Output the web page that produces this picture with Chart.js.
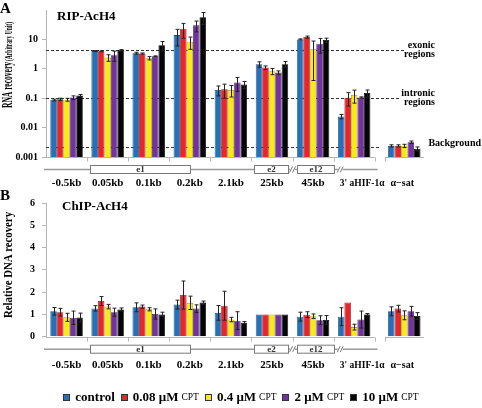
<!DOCTYPE html>
<html>
<head>
<meta charset="utf-8">
<script src="https://cdn.jsdelivr.net/npm/chart.js@4.4.1/dist/chart.umd.min.js"></script>
<style>
  body { margin: 0; background: #fff; }
  #page { position: relative; width: 482px; height: 408px; overflow: hidden; font-family: "Liberation Serif", "Times New Roman", serif; }
  canvas { position: absolute; left: 0; display: block; }
  #chartA { top: 0; }
  #chartB { top: 190px; }
  #legend { position: absolute; left: 0; top: 389px; width: 482px; display: flex; justify-content: center; align-items: center; font-weight: bold; font-size: 13px; line-height: 16px; white-space: nowrap; }
  #legend .item { display: flex; align-items: center; margin: 0 3px; }
  #legend .sw { width: 5px; height: 5px; border: 1px solid #333; margin-right: 5px; }
  #legend small { font-size: 9.5px; font-weight: normal; margin-left: 3px; }
</style>
</head>
<body>
<div id="page">
  <canvas id="chartA" width="482" height="200"></canvas>
  <canvas id="chartB" width="482" height="190"></canvas>
  <div id="legend"></div>
</div>
<script>
const FONT = '"Liberation Serif", "Times New Roman", serif';

// categories (regions along the HIF-1α gene)
const categories = ['-0.5kb', '0.05kb', '0.1kb', '0.2kb', '2.1kb', '25kb', '45kb', "3' aHIF-1α", 'α−sat'];
const seriesLabels = ['control', '0.08 μM CPT', '0.4 μM CPT', '2 μM CPT', '10 μM CPT'];
const seriesColors = ['#2670b8', '#e8252b', '#f7ea16', '#7232a0', '#050505'];
const seriesEdges = ['#184f86', '#9c1418', '#a89a0a', '#4a1c6c', '#000000'];

// A: RIP-AcH4, RNA recovery (log)
const ripControl = [0.087, 4.0, 3.4, 14, 0.19, 1.43, 10, 0.024, 0.0024];
const rip008 = [0.092, 3.95, 3.3, 23, 0.2, 1.1, 12, 0.104, 0.0024];
const rip04 = [0.089, 2.4, 2.3, 8.3, 0.19, 0.83, 4.6, 0.128, 0.0024];
const rip2 = [0.105, 2.9, 2.65, 30, 0.34, 0.75, 7.1, 0.106, 0.0032];
const rip10 = [0.124, 4.3, 6.3, 57, 0.29, 1.43, 9.5, 0.15, 0.0019];
const ripControlErr = [0.006, 0.15, 0.25, 8, 0.07, 0.3, 0.4, 0.004, 0.0002];
const rip008Err = [0.008, 0.15, 0.15, 12, 0.1, 0.15, 1.0, 0.05, 0.0002];
const rip04Err = [0.01, 0.6, 0.3, 3.7, 0.08, 0.2, 4.2, 0.06, 0.0003];
const rip2Err = [0.015, 1.1, 0.1, 12, 0.17, 0.1, 3.7, 0.005, 0.0003];
const rip10Err = [0.01, 0.2, 2.2, 25, 0.08, 0.35, 1.5, 0.04, 0.0003];

// B: ChIP-AcH4, relative DNA recovery
const chipControl = [1.14, 1.27, 1.32, 1.44, 1.07, 1.0, 0.9, 0.9, 1.14];
const chip008 = [1.1, 1.6, 1.35, 1.87, 1.39, 1.0, 0.99, 1.53, 1.26];
const chip04 = [0.87, 1.35, 1.23, 1.52, 0.77, 1.0, 0.92, 0.43, 0.96];
const chip2 = [0.85, 1.1, 1.02, 1.26, 0.72, 1.0, 0.74, 0.77, 1.14];
const chip10 = [0.86, 1.22, 1.0, 1.53, 0.63, 1.0, 0.75, 1.0, 0.93];
const chipControlErr = [0.17, 0.12, 0.2, 0.2, 0.33, 0, 0.2, 0.4, 0.2];
const chip008Err = [0.17, 0.2, 0.07, 0.63, 0.65, 0, 0.13, 0, 0.15];
const chip04Err = [0.18, 0.1, 0.07, 0.3, 0.1, 0, 0.1, 0.13, 0.2];
const chip2Err = [0.3, 0.18, 0.23, 0.17, 0.4, 0, 0.2, 0.38, 0.22];
const chip10Err = [0.2, 0.07, 0.1, 0.07, 0.05, 0, 0.2, 0.04, 0.15];

const ticksA = [0.001, 0.01, 0.1, 1, 10];
const ticksB = [0, 1, 2, 3, 4, 5, 6];

// dashed levels in A
const refLevels = [4.3, 0.1, 0.0022];
const refLabels = [['exonic', 'regions'], ['intronic', 'regions'], ['Background']];

// gene map under the axes (in axis units)
const exons = [['e1', 0.57, 3.0], ['e2', 4.56, 5.4], ['e12', 5.61, 6.52]];
const breaks = [5.5, 6.66];

// α-sat sits on its own short axis, a bit further right
const groupPos = categories.map((c, i) => i === categories.length - 1 ? 8.22 : i);

function makeSets(values, errors) {
    return values.map((vals, s) => ({
        label: seriesLabels[s],
        data: vals.map((v, i) => ({ x: groupPos[i], y: v })),
        errors: errors[s],
        backgroundColor: seriesColors[s],
        borderColor: seriesEdges[s],
        borderWidth: 0.8,
        categoryPercentage: 0.79,
        barPercentage: 1
    }));
}

const panelCfg = {
    chartA: { letter: 'A', letterY: 9, title: 'RIP-AcH4', titleX: 57, titleY: 17, labelOff: 26.5, refs: true },
    chartB: { letter: 'B', letterY: 6, title: 'ChIP-AcH4', titleX: 62, titleY: 17, labelOff: 28.5, refs: false }
};
const refLineEnd = [404, 401, 380];

function vText(ctx, text, font, cx, yStart, len) {
    // draw rotated text upward from yStart, squeezed to len px
    ctx.save();
    ctx.translate(cx, yStart);
    ctx.rotate(-Math.PI / 2);
    ctx.font = font;
    const w = ctx.measureText(text).width;
    ctx.scale(len / w, 1);
    ctx.textAlign = 'left';
    ctx.textBaseline = 'middle';
    ctx.fillStyle = '#000';
    ctx.fillText(text, 0, 0);
    ctx.restore();
}

const panelPlugin = {
    id: 'panel',
    beforeDatasetsDraw(chart) {
        const cfg = panelCfg[chart.canvas.id];
        if (!cfg.refs) return;
        const { ctx, chartArea } = chart;
        const y = chart.scales.y;
        ctx.save();
        ctx.strokeStyle = '#333';
        ctx.lineWidth = 1;
        ctx.setLineDash([3, 2]);
        refLevels.forEach((v, k) => {
            const py = Math.round(y.getPixelForValue(v)) + 0.5;
            ctx.beginPath();
            ctx.moveTo(chartArea.left, py);
            ctx.lineTo(refLineEnd[k], py);
            ctx.stroke();
        });
        ctx.restore();
    },
    afterDatasetsDraw(chart) {
        // error bars
        const { ctx } = chart;
        const y = chart.scales.y;
        ctx.save();
        ctx.strokeStyle = '#222';
        ctx.lineWidth = 1;
        chart.data.datasets.forEach((ds, di) => {
            chart.getDatasetMeta(di).data.forEach((bar, i) => {
                const e = ds.errors[i];
                if (!e) return;
                const v = ds.data[i].y;
                const lo = Math.max(v - e, y.min);
                const top = y.getPixelForValue(v + e);
                const bot = y.getPixelForValue(lo);
                const cx = Math.round(bar.x) + 0.5;
                ctx.beginPath();
                ctx.moveTo(cx, top); ctx.lineTo(cx, bot);
                ctx.moveTo(cx - 2, top); ctx.lineTo(cx + 2, top);
                ctx.moveTo(cx - 2, bot); ctx.lineTo(cx + 2, bot);
                ctx.stroke();
            });
        });
        ctx.restore();
    },
    afterDraw(chart) {
        const cfg = panelCfg[chart.canvas.id];
        const { ctx, chartArea } = chart;
        const x = chart.scales.x, y = chart.scales.y;
        const px = v => x.getPixelForValue(v);
        const base = Math.round(chartArea.bottom) + 0.5;
        ctx.save();

        // x axis in two pieces
        ctx.strokeStyle = '#b5b5b5';
        ctx.lineWidth = 1;
        ctx.beginPath();
        ctx.moveTo(chartArea.left, base); ctx.lineTo(px(7.5), base);
        ctx.moveTo(px(7.75), base); ctx.lineTo(px(8.7), base);
        for (let b = 0.5; b <= 7.5; b++) {
            const p = Math.round(px(b)) + 0.5;
            ctx.moveTo(p, base); ctx.lineTo(p, base + 4);
        }
        const ps = Math.round(px(7.75)) + 0.5;
        ctx.moveTo(ps, base); ctx.lineTo(ps, base + 4);
        ctx.stroke();

        // gene map
        const gy = chartArea.bottom + 12.5;
        ctx.strokeStyle = '#9a9a9a';
        ctx.lineWidth = 1.5;
        ctx.beginPath();
        ctx.moveTo(px(-0.55), gy); ctx.lineTo(px(7.57), gy);
        ctx.stroke();
        ctx.lineWidth = 1;
        ctx.strokeStyle = '#7a7a7a';
        ctx.font = 'bold 9px ' + FONT;
        ctx.textAlign = 'center';
        ctx.textBaseline = 'middle';
        exons.forEach(([name, a, b]) => {
            const x0 = Math.round(px(a)) + 0.5, x1 = Math.round(px(b)) + 0.5;
            ctx.fillStyle = '#fff';
            ctx.fillRect(x0, gy - 4, x1 - x0, 8);
            ctx.strokeRect(x0, gy - 4, x1 - x0, 8);
            ctx.fillStyle = '#333';
            ctx.fillText(name, (x0 + x1) / 2, gy);
        });
        breaks.forEach(b => {
            const c = px(b);
            ctx.fillStyle = '#fff';
            ctx.fillRect(c - 2.5, gy - 2, 5, 4);
            ctx.beginPath();
            [-1.5, 1.5].forEach(d => {
                ctx.moveTo(c + d - 1.5, gy + 3); ctx.lineTo(c + d + 1.5, gy - 3);
            });
            ctx.stroke();
        });

        // category labels
        ctx.fillStyle = '#000';
        categories.forEach((c, i) => {
            let shift = 0;
            ctx.font = 'bold 11px ' + FONT;
            if (i === 7) { shift = 8; ctx.font = 'bold 9.5px ' + FONT; }
            if (i === 8) { shift = -2; ctx.font = 'bold 10px ' + FONT; }
            ctx.fillText(c, px(groupPos[i]) + shift, chartArea.bottom + cfg.labelOff);
        });

        // panel letter and title
        ctx.textAlign = 'left';
        ctx.font = 'bold 15px ' + FONT;
        ctx.fillText(cfg.letter, 0, cfg.letterY);
        ctx.font = 'bold 13px ' + FONT;
        ctx.fillText(cfg.title, cfg.titleX, cfg.titleY);

        // y titles
        if (cfg.refs) {
            vText(ctx, 'RNA recovery', 'bold 14px ' + FONT, 8.5, 108, 46);
            vText(ctx, '(Arbitrary Unit)', 'bold 10px ' + FONT, 9, 61, 39);
            ctx.font = 'bold 10px ' + FONT;
            ctx.textAlign = 'right';
            refLevels.forEach((v, k) => {
                const py = y.getPixelForValue(v);
                const lines = refLabels[k];
                if (lines.length === 2) {
                    ctx.fillText(lines[0], 435, py - 4.5);
                    ctx.fillText(lines[1], 435, py + 4.5);
                } else {
                    ctx.fillText(lines[0], 481, py - 3.5);
                }
            });
        } else {
            vText(ctx, 'Relative DNA recovery', 'bold 13px ' + FONT, 8.5, 128, 106);
        }
        ctx.restore();
    }
};

function xScale() {
    return {
        type: 'linear', min: -0.5, max: 8.7, offset: false,
        afterBuildTicks: s => { s.ticks = [-0.5, 0.5, 1.5, 2.5, 3.5, 4.5, 5.5, 6.5, 7.5].map(v => ({ value: v })); },
        ticks: { display: false },
        grid: { display: false },
        border: { display: false },
        afterFit: s => { s.height = s.chart.canvas.id === 'chartA' ? 43 : 43.3; }
    };
}

const tickFont = { family: FONT, size: 10, weight: 'bold' };

new Chart(document.getElementById('chartA'), {
    type: 'bar',
    data: { datasets: makeSets([ripControl, rip008, rip04, rip2, rip10], [ripControlErr, rip008Err, rip04Err, rip2Err, rip10Err]) },
    options: {
        responsive: false,
        animation: false,
        layout: { padding: { top: 9, right: 58, left: 0, bottom: 0 } },
        plugins: { legend: { display: false }, tooltip: { enabled: false } },
        scales: {
            x: xScale(),
            y: {
                type: 'logarithmic', min: 0.001, max: 100,
                afterBuildTicks: s => { s.ticks = ticksA.map(v => ({ value: v })); },
                ticks: { callback: v => String(v), font: tickFont, color: '#000', padding: 4 },
                grid: { drawOnChartArea: false, tickLength: 4, color: '#b5b5b5' },
                border: { color: '#b5b5b5' },
                afterFit: s => { s.width = 46; }
            }
        }
    },
    plugins: [panelPlugin]
});

new Chart(document.getElementById('chartB'), {
    type: 'bar',
    data: { datasets: makeSets([chipControl, chip008, chip04, chip2, chip10], [chipControlErr, chip008Err, chip04Err, chip2Err, chip10Err]) },
    options: {
        responsive: false,
        animation: false,
        layout: { padding: { top: 7, right: 58, left: 0, bottom: 0 } },
        plugins: { legend: { display: false }, tooltip: { enabled: false } },
        scales: {
            x: xScale(),
            y: {
                type: 'linear', min: 0, max: 6,
                afterBuildTicks: s => { s.ticks = ticksB.map(v => ({ value: v })); },
                ticks: { font: tickFont, color: '#000', padding: 7 },
                grid: { drawOnChartArea: false, tickLength: 4, color: '#b5b5b5' },
                border: { color: '#b5b5b5' },
                afterFit: s => { s.width = 46; }
            }
        }
    },
    plugins: [panelPlugin]
});

// legend with the smaller "CPT" unit
const legend = document.getElementById('legend');
seriesLabels.forEach((name, s) => {
    const item = document.createElement('span');
    item.className = 'item';
    const sw = document.createElement('span');
    sw.className = 'sw';
    sw.style.background = seriesColors[s];
    item.appendChild(sw);
    const parts = name.split(' CPT');
    const b = document.createElement('span');
    b.textContent = parts[0];
    item.appendChild(b);
    if (parts.length > 1) {
        const u = document.createElement('small');
        u.textContent = 'CPT';
        item.appendChild(u);
    }
    legend.appendChild(item);
});
</script>
</body>
</html>
